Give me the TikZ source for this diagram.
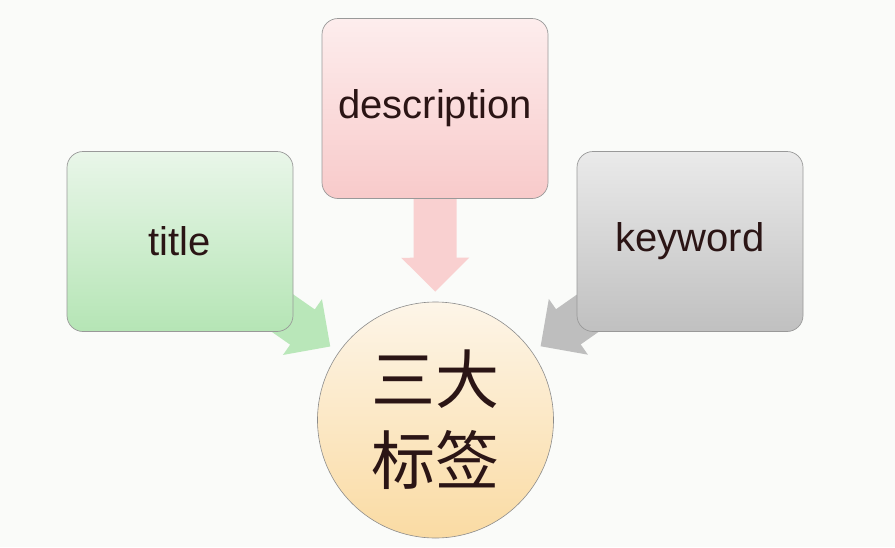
\documentclass[tikz,border=0pt]{standalone}
\usepackage{fontspec}
\setmainfont{Liberation Sans}
\newfontfamily\cjk{Noto Sans CJK SC}
\usetikzlibrary{arrows.meta}
\definecolor{bgcol}{HTML}{FAFBF9}
\definecolor{txtcol}{HTML}{2B1515}
\definecolor{grtop}{HTML}{E9F6E9}
\definecolor{grbot}{HTML}{B5E5B5}
\definecolor{pktop}{HTML}{FDEDED}
\definecolor{pkbot}{HTML}{F8CACA}
\definecolor{gytop}{HTML}{EAEAEA}
\definecolor{gybot}{HTML}{C0C0C0}
\definecolor{hubtop}{HTML}{FDF5E8}
\definecolor{hubbot}{HTML}{FADBA3}
\definecolor{grarr}{HTML}{B9E7B9}
\definecolor{pkarr}{HTML}{F9D0D0}
\definecolor{gyarr}{HTML}{BEBEBE}
\pgfdeclarelayer{back}
\pgfdeclarelayer{arrows}
\pgfsetlayers{back,arrows,main}
\begin{document}
\begin{tikzpicture}[x=1pt, y=-1pt,
		tag/.style={draw=black!40, line width=.7pt, rounded corners=16pt, minimum width=226pt, minimum height=180pt, text=txtcol, font=\fontsize{40}{40}\selectfont},
		hub/.style={circle, draw=black!45, line width=.6pt, minimum size=236pt, inner sep=0pt, align=center, text=txtcol, font=\cjk\fontsize{64}{81}\selectfont},
		fat/.style={line width=43pt, -{Triangle[length=34pt, width=66pt]}, shorten >=10pt}]
				\begin{pgfonlayer}{back}
					\fill[bgcol] (0,0) rectangle (895,547);
				\end{pgfonlayer}
				\useasboundingbox (0,0) rectangle (895,547);
				\node[tag, top color=pktop, bottom color=pkbot] (desc) at (435,108.5) {description};
				\node[tag, top color=grtop, bottom color=grbot] (title) at (180,241.5) {title};
				\node[tag, top color=gytop, bottom color=gybot] (keyword) at (690,241.5) {keyword};
				\node[hub, top color=hubtop, bottom color=hubbot] (tags) at (435.5,420) {三大\\标签};
				\begin{pgfonlayer}{arrows}
					\draw[fat, pkarr] (desc) -- (tags);
					\draw[fat, grarr] (title.center) -- (tags);
					\draw[fat, gyarr] (keyword.center) -- (tags);
				\end{pgfonlayer}
			\end{tikzpicture}
\end{document}
